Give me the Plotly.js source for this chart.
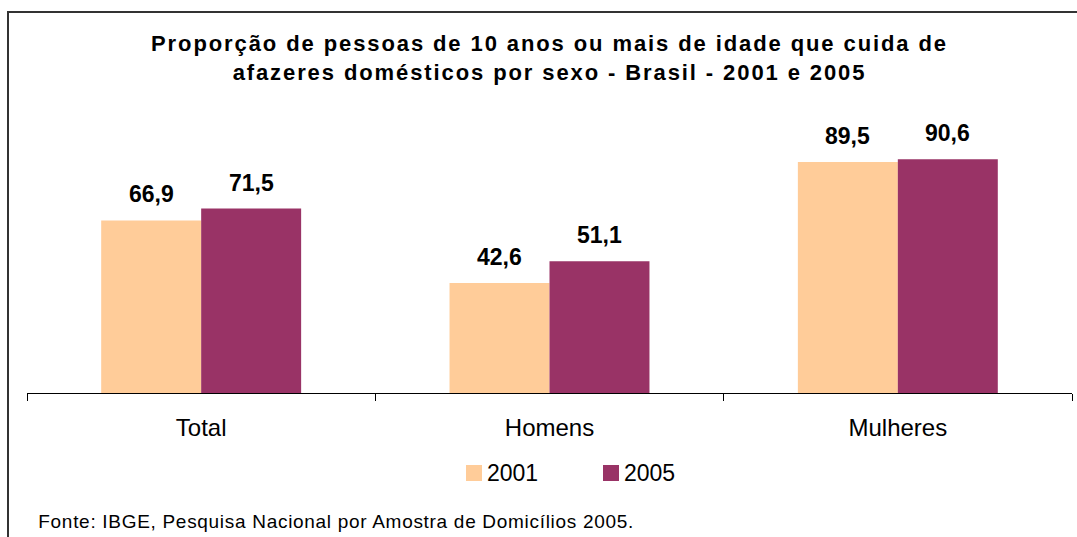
<!DOCTYPE html>
<html>
<head>
<meta charset="utf-8">
<script src="https://cdn.plot.ly/plotly-3.0.1.min.js"></script>
<style>
  html, body { margin: 0; padding: 0; background: #fff; }
  #wrap { position: relative; width: 1077px; height: 537px; overflow: hidden; }
  #frame { position: absolute; left: 7px; top: 11px; width: 1200px; height: 700px;
           border-top: 2px solid #333; border-left: 2px solid #333; pointer-events: none; z-index: 2; }
  #chart { position: absolute; left: 0; top: 0; width: 1077px; height: 537px; }
  .gtitle { letter-spacing: 1.9px; }
  .annotation[data-index="8"] text { letter-spacing: 0.7px; }
</style>
</head>
<body>
<div id="wrap">
  <div id="chart"></div>
  <div id="frame"></div>
</div>
<script>
const categories = ['Total', 'Homens', 'Mulheres'];
const seriesNames = ['2001', '2005'];
const values2001 = [66.9, 42.6, 89.5];
const values2005 = [71.5, 51.1, 90.6];
const seriesColors = ['#FFCC99', '#993366'];
const titleText = 'Proporção de pessoas de 10 anos ou mais de idade que cuida de<br>afazeres domésticos por sexo - Brasil - 2001 e 2005';
const sourceText = 'Fonte: IBGE, Pesquisa Nacional por Amostra de Domicílios 2005.';

const seriesValues = [values2001, values2005];
const FONT = 'Liberation Sans, Arial, sans-serif';

const traces = seriesValues.map((vals, i) => ({
  type: 'bar',
  name: seriesNames[i],
  x: categories,
  y: vals,
  marker: { color: seriesColors[i], line: { width: 0 } },
  hoverinfo: 'x+y',
  showlegend: false
}));

const annotations = [];
seriesValues.forEach((vals, i) => {
  vals.forEach((v, j) => {
    annotations.push({
      x: categories[j], y: v, xref: 'x', yref: 'y',
      xshift: i === 0 ? -50 : 50, yshift: 26,
      text: v.toFixed(1).replace('.', ','),
      showarrow: false, xanchor: 'center', yanchor: 'middle',
      font: { family: FONT, size: 23, color: '#000', weight: 'bold' }
    });
  });
});

// manual legend
const PL = 27, PW = 1045, PB = 393, PH = 258;
const px2x = p => (p - PL) / PW;
const py2y = p => (PB - p) / PH;
const legendX = [474, 611];
const legendY = 473;
const shapes = [];
seriesNames.forEach((n, i) => {
  shapes.push({
    type: 'rect', xref: 'paper', yref: 'paper',
    xsizemode: 'pixel', ysizemode: 'pixel',
    xanchor: px2x(legendX[i]), yanchor: py2y(legendY),
    x0: -8, x1: 8, y0: -8, y1: 8,
    fillcolor: seriesColors[i], line: { width: 0 }
  });
  annotations.push({
    xref: 'paper', yref: 'paper', x: px2x(legendX[i] + 11), y: py2y(legendY),
    text: n, showarrow: false, xanchor: 'left', yanchor: 'middle',
    font: { family: FONT, size: 23, color: '#000' }
  });
});

annotations.push({
  xref: 'paper', yref: 'paper', x: px2x(58), y: py2y(521),
  text: sourceText, showarrow: false, xanchor: 'left', yanchor: 'middle',
  font: { family: FONT, size: 19, color: '#000' }
});

const layout = {
  width: 1077, height: 537,
  margin: { l: 27, r: 5, t: 135, b: 144 },
  paper_bgcolor: '#fff', plot_bgcolor: '#fff',
  font: { family: FONT, color: '#000' },
  title: {
    text: titleText,
    x: 0.5, xref: 'paper', xanchor: 'center',
    y: 1 - 51 / 537, yref: 'container', yanchor: 'top',
    font: { family: FONT, size: 22, color: '#000', weight: 'bold' }
  },
  barmode: 'group',
  bargap: 0.426,
  bargroupgap: 0,
  showlegend: false,
  xaxis: {
    type: 'category',
    showline: true, linecolor: '#000', linewidth: 1,
    ticks: 'outside', tickson: 'boundaries', ticklen: 7, tickcolor: '#000', tickwidth: 1,
    tickfont: { family: FONT, size: 24, color: '#000' },
    ticklabelstandoff: 13,
    showgrid: false, zeroline: false, fixedrange: true
  },
  yaxis: {
    range: [0, 100],
    visible: false, showgrid: false, zeroline: false, fixedrange: true
  },
  shapes: shapes,
  annotations: annotations
};

Plotly.newPlot('chart', traces, layout, { displayModeBar: false, staticPlot: true });
</script>
</body>
</html>
